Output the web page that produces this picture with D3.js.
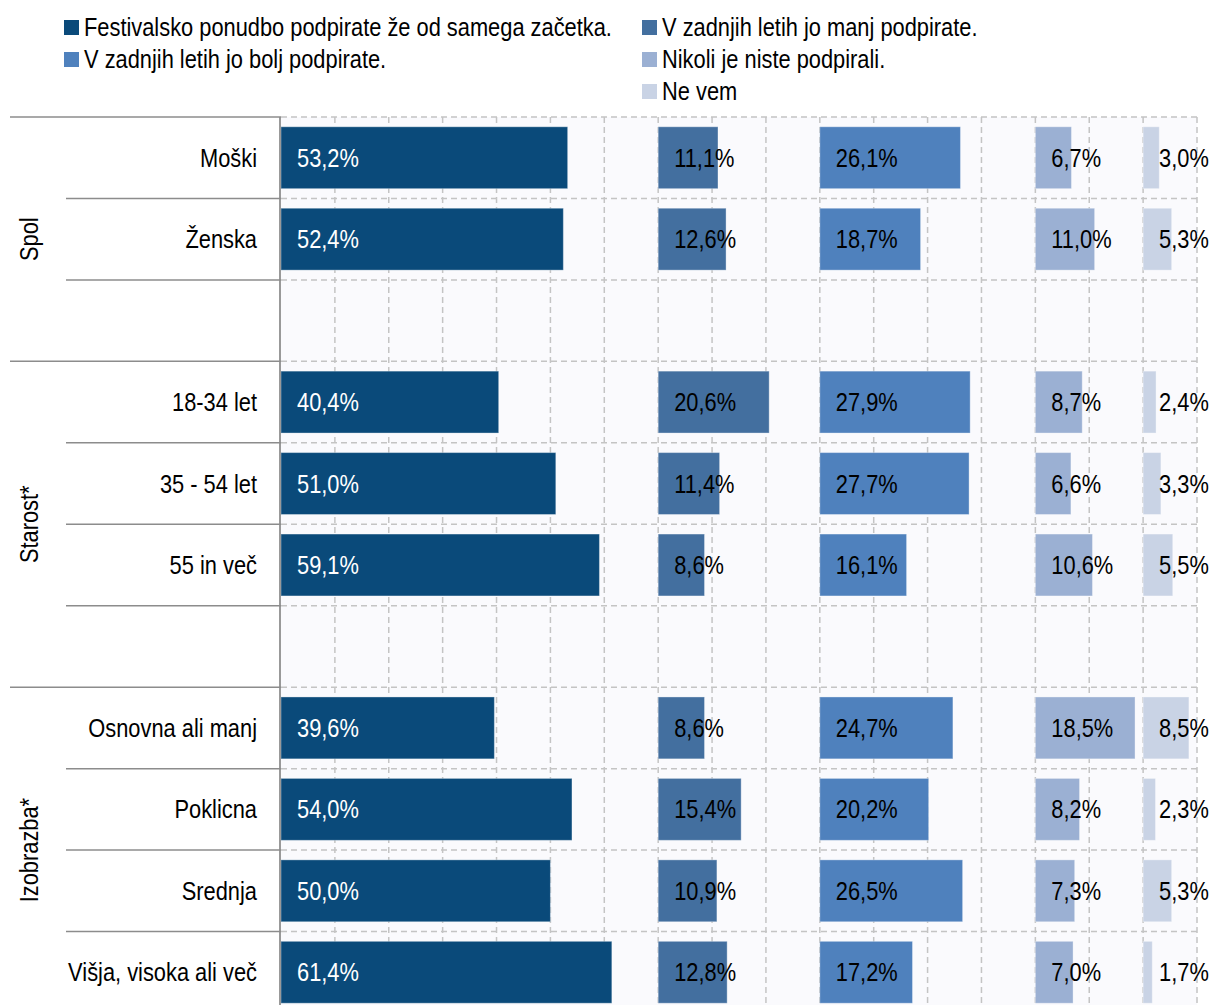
<!DOCTYPE html>
<html><head><meta charset="utf-8">
<script src="https://cdn.jsdelivr.net/npm/d3@7"></script>
<style>
html,body{margin:0;padding:0;background:#fff;}
text{font-family:"Liberation Sans",Arial,sans-serif;}
</style></head>
<body>
<svg id="chart" width="1212" height="1005"></svg>
<script>
const rows = ["Moški","Ženska","","18-34 let","35 - 54 let","55 in več","","Osnovna ali manj","Poklicna","Srednja","Višja, visoka ali več"];
const groups = [{name:"Spol", from:0, to:2},{name:"Starost*", from:3, to:6},{name:"Izobrazba*", from:7, to:10}];
const seriesNames = ["Festivalsko ponudbo podpirate že od samega začetka.","V zadnjih letih jo manj podpirate.","V zadnjih letih jo bolj podpirate.","Nikoli je niste podpirali.","Ne vem"];
const s1 = [53.2,52.4,null,40.4,51.0,59.1,null,39.6,54.0,50.0,61.4];
const s2 = [11.1,12.6,null,20.6,11.4,8.6,null,8.6,15.4,10.9,12.8];
const s3 = [26.1,18.7,null,27.9,27.7,16.1,null,24.7,20.2,26.5,17.2];
const s4 = [6.7,11.0,null,8.7,6.6,10.6,null,18.5,8.2,7.3,7.0];
const s5 = [3.0,5.3,null,2.4,3.3,5.5,null,8.5,2.3,5.3,1.7];
const panelOffsets = [0,70,100,140,160];
const colors = ["#0a4a7a","#436f9f","#4f81bd","#9bb0d3","#c9d3e5"];
const seriesValues = [s1,s2,s3,s4,s5];

const svg = d3.select("#chart");
const fmt = v => v.toFixed(1).replace(".", ",") + "%";
const NARROW = 0.84, FS = 26;
const tr = (px,py) => `translate(${px},${py}) scale(${NARROW},1)`;

const x = d3.scaleLinear().domain([0,170]).range([281,1197]);
const y = d3.scaleBand().domain(d3.range(rows.length)).range([117,1013]).paddingInner(0.24).paddingOuter(0.12);
const step = y.step();
const rowTop = i => y(i) - y.paddingOuter()*step;

// plot background
svg.append("rect").attr("x",x(0)).attr("y",117).attr("width",x(170)-x(0)).attr("height",1013-117).attr("fill","#fafafd");

// vertical gridlines
svg.append("g").selectAll("line").data(d3.range(10,171,10)).join("line")
  .attr("x1",d=>x(d)).attr("x2",d=>x(d)).attr("y1",117).attr("y2",1013)
  .attr("stroke","#c4c4c4").attr("stroke-width",1.5).attr("stroke-dasharray","6,4");
// horizontal gridlines
svg.append("g").selectAll("line").data(d3.range(rows.length+1)).join("line")
  .attr("x1",x(0)).attr("x2",x(170)).attr("y1",d=>117+d*step).attr("y2",d=>117+d*step)
  .attr("stroke","#c4c4c4").attr("stroke-width",1.5).attr("stroke-dasharray","6,4");

// bars
seriesValues.forEach((vals,si)=>{
  const off = panelOffsets[si];
  const g = svg.append("g");
  const data = vals.map((v,i)=>({v,i})).filter(d=>d.v!=null);
  g.selectAll("rect").data(data).join("rect")
    .attr("x",x(off)).attr("y",d=>y(d.i))
    .attr("width",d=>x(off+d.v)-x(off)).attr("height",y.bandwidth())
    .attr("fill",colors[si]).attr("stroke","rgba(255,255,255,0.35)").attr("stroke-width",1);
  g.selectAll("text").data(data).join("text")
    .attr("transform",d=>tr(x(off)+16, y(d.i)+y.bandwidth()/2))
    .attr("dy","0.35em").attr("font-size",FS)
    .attr("fill",si===0?"#ffffff":"#000000")
    .text(d=>fmt(d.v));
});

// axis line
svg.append("line").attr("x1",280).attr("x2",280).attr("y1",117).attr("y2",1013).attr("stroke","#999").attr("stroke-width",2);

// left separators
const groupStarts = groups.map(g=>g.from);
svg.append("g").selectAll("line").data(d3.range(rows.length)).join("line")
  .attr("x1",d=>groupStarts.includes(d)?10:66).attr("x2",281)
  .attr("y1",d=>rowTop(d)).attr("y2",d=>rowTop(d))
  .attr("stroke","#8c8c8c").attr("stroke-width",1.5);

// row labels
svg.append("g").selectAll("text").data(rows).join("text")
  .attr("transform",(d,i)=>tr(257, y(i)+y.bandwidth()/2)).attr("dy","0.35em")
  .attr("text-anchor","end").attr("font-size",FS).attr("fill","#000").text(d=>d);

// group labels
svg.append("g").selectAll("text").data(groups).join("text")
  .attr("transform",g=>{const cy=(rowTop(g.from)+rowTop(g.to)+step)/2;return `translate(38,${cy}) rotate(-90) scale(${NARROW},1)`;})
  .attr("text-anchor","middle").attr("font-size",FS).attr("fill","#000").text(g=>g.name);

// legend
const legendPos = [[64,27],[642,27],[64,59],[642,59],[642,91]];
const lg = svg.append("g");
seriesNames.forEach((n,i)=>{
  const [lx,ly]=legendPos[i];
  lg.append("rect").attr("x",lx).attr("y",ly-7).attr("width",15).attr("height",15).attr("fill",colors[i]);
  lg.append("text").attr("transform",tr(lx+20,ly)).attr("dy","0.35em").attr("font-size",FS).attr("fill","#000").text(n);
});
</script>
</body></html>
